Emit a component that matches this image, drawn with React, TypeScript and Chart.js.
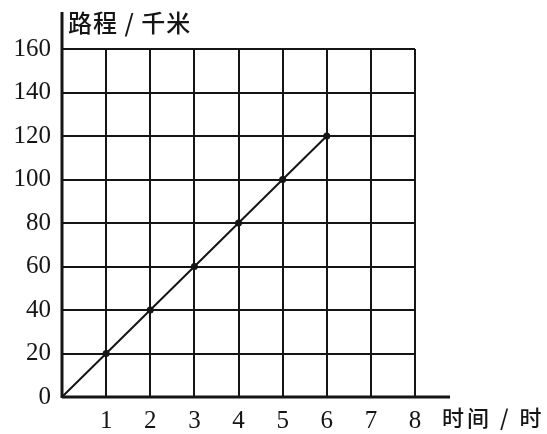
import { useEffect, useRef } from "react";
import { Chart, registerables } from "chart.js";

Chart.register(...registerables);

const hours = [0, 1, 2, 3, 4, 5, 6];
const distanceKm = [0, 20, 40, 60, 80, 100, 120];
const pointSizes = [0, 3.5, 3.5, 3.5, 3.5, 3.5, 3.5];
const xTicks = [0, 1, 2, 3, 4, 5, 6, 7, 8];
const yTicks = [0, 20, 40, 60, 80, 100, 120, 140, 160];
const yTitle = "路程 / 千米";
const xTitle = "时间 / 时";

const INK = "#151515";

const axesPlugin = {
  id: "handAxes",
  afterDraw(chart: any) {
    const { ctx, chartArea, scales } = chart;
    const x0 = scales.x.getPixelForValue(0);
    const y0 = scales.y.getPixelForValue(0);
    ctx.save();
    ctx.strokeStyle = INK;
    ctx.lineWidth = 3;
    ctx.lineCap = "butt";
    ctx.beginPath();
    ctx.moveTo(x0, y0);
    ctx.lineTo(chartArea.right + 35, y0);
    ctx.moveTo(x0, y0 + 1);
    ctx.lineTo(x0, chartArea.top - 37);
    ctx.stroke();

    ctx.fillStyle = INK;
    ctx.textBaseline = "middle";
    ctx.textAlign = "left";
    ctx.font = "500 24px 'Noto Sans CJK SC'";
    (ctx as any).letterSpacing = "1px";
    ctx.fillText(yTitle, x0 + 6, chartArea.top - 26);
    ctx.font = "500 22px 'Noto Sans CJK SC'";
    (ctx as any).letterSpacing = "3px";
    ctx.fillText(xTitle, chartArea.right + 27, y0 + 21);
    ctx.restore();
  },
};

export default function App() {
  const ref = useRef<HTMLCanvasElement | null>(null);

  useEffect(() => {
    if (!ref.current) return;
    const chart = new Chart(ref.current, {
      type: "line",
      data: {
        datasets: [
          {
            data: hours.map((h, i) => ({ x: h, y: distanceKm[i] })),
            borderColor: INK,
            borderWidth: 2,
            pointRadius: pointSizes,
            pointBackgroundColor: INK,
            pointBorderColor: INK,
            pointBorderWidth: 0,
            tension: 0,
          },
        ],
      },
      options: {
        responsive: false,
        animation: false,
        devicePixelRatio: 1,
        layout: { padding: { left: 0, top: 49, right: 132, bottom: 0 } },
        plugins: {
          legend: { display: false },
          tooltip: { enabled: false },
          title: { display: false },
        },
        scales: {
          x: {
            type: "linear",
            min: 0,
            max: 8,
            afterBuildTicks: (scale: any) => {
              scale.ticks = xTicks.map((v) => ({ value: v }));
            },
            afterFit: (scale: any) => {
              scale.height = 37;
            },
            ticks: {
              color: INK,
              padding: 9,
              font: { family: "'Liberation Serif'", size: 25 },
              callback: (v: any) => (v === 0 ? "" : String(v)),
            },
            grid: { color: INK, lineWidth: 2, drawTicks: false },
            border: { display: false },
          },
          y: {
            type: "linear",
            min: 0,
            max: 160,
            afterBuildTicks: (scale: any) => {
              scale.ticks = yTicks.map((v) => ({ value: v }));
            },
            afterFit: (scale: any) => {
              scale.width = 62;
            },
            ticks: {
              color: INK,
              padding: 11,
              font: { family: "'Liberation Serif'", size: 25 },
              callback: (v: any) => String(v),
            },
            grid: { color: INK, lineWidth: 2, drawTicks: false },
            border: { display: false },
          },
        },
      },
      plugins: [axesPlugin],
    });
    return () => chart.destroy();
  }, []);

  return (
    <div style={{ position: "absolute", left: 0, top: 0, width: 547, height: 434, background: "#fff" }}>
      <canvas ref={ref} width={547} height={434} />
    </div>
  );
}
